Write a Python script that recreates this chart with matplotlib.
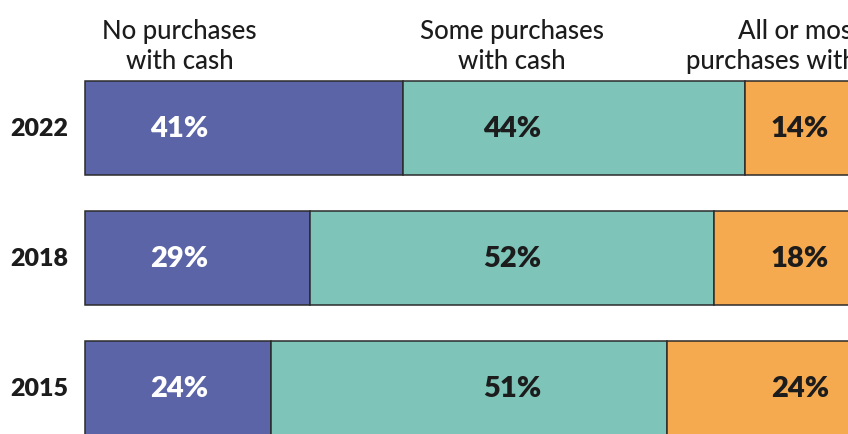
import numpy as np
import matplotlib.pyplot as plt

years = ["2022", "2018", "2015"]
categories = ["No purchases\nwith cash", "Some purchases\nwith cash", "All or most\npurchases with cash"]
none_cash = [41, 29, 24]
some_cash = [44, 52, 51]
most_cash = [14, 18, 24]

colors = ["#5B64A6", "#7EC4B9", "#F6AA50"]
text_colors = ["white", "#1c1c1c", "#1c1c1c"]
label_x = [12.2, 55.0, 92.1]  # fixed label columns, in % units

plt.rcParams['font.family'] = ['Lato', 'DejaVu Sans']

fig = plt.figure(figsize=(8.48, 4.35), dpi=100)
ax = fig.add_axes([0, 0, 1, 1])

px = 7.76  # pixels per percent
ax.set_xlim(-85/px, (848-85)/px)
ax.set_ylim((435-129)/130, -129/130)

series = [none_cash, some_cash, most_cash]
y = np.arange(len(years))
left = np.zeros(len(years))
for k, vals in enumerate(series):
    ax.barh(y, vals, left=left, height=0.723, color=colors[k],
            edgecolor="#2b2b2b", linewidth=1.1)
    for i, v in enumerate(vals):
        ax.text(label_x[k], y[i], f"{v}%", ha="center", va="center",
                fontsize=21, fontweight="heavy", color=text_colors[k])
    left += np.array(vals)

for i, yr in enumerate(years):
    ax.text(-2.2, y[i], yr, ha="right", va="center", fontsize=18,
            fontweight="heavy", color="#1c1c1c")

for k, cat in enumerate(categories):
    ax.text(label_x[k], -0.635, cat, ha="center", va="center", fontsize=18.5,
            fontweight="medium", color="#1c1c1c", linespacing=1.22)

ax.axis("off")
fig.savefig("out.png", dpi=100)
